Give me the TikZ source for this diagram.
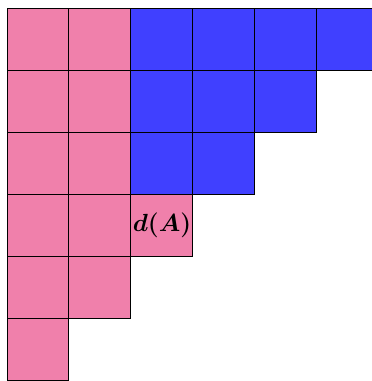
\documentclass[tikz,border=0pt]{standalone}
\usepackage{bm}
\definecolor{cpink}{RGB}{240,128,171}
\definecolor{cblue}{RGB}{64,64,255}
\tikzset{
  pinkcell/.style={fill=cpink,draw=black,line width=0.9bp},
  bluecell/.style={fill=cblue,draw=black,line width=0.9bp}
}
\begin{document}
\begin{tikzpicture}[x=1bp,y=1bp]
\useasboundingbox (0,0) rectangle (372,381);
\begin{scope}
\clip (0,0) rectangle (372,381);
\def\cs{61.9}
\foreach \r/\c/\s in {0/0/pinkcell,0/1/pinkcell,0/2/bluecell,0/3/bluecell,0/4/bluecell,0/5/bluecell,
  1/0/pinkcell,1/1/pinkcell,1/2/bluecell,1/3/bluecell,1/4/bluecell,
  2/0/pinkcell,2/1/pinkcell,2/2/bluecell,2/3/bluecell,
  3/0/pinkcell,3/1/pinkcell,3/2/pinkcell,
  4/0/pinkcell,4/1/pinkcell,
  5/0/pinkcell}{
  \path[\s] ({7+\c*\cs},{372.3-\r*\cs}) rectangle ({7+(\c+1)*\cs},{372.3-(\r+1)*\cs});
}
\end{scope}
\node (dA) at (162,155.5) {\fontsize{24}{28}\selectfont $\bm{d(A)}$};
\end{tikzpicture}
\end{document}
